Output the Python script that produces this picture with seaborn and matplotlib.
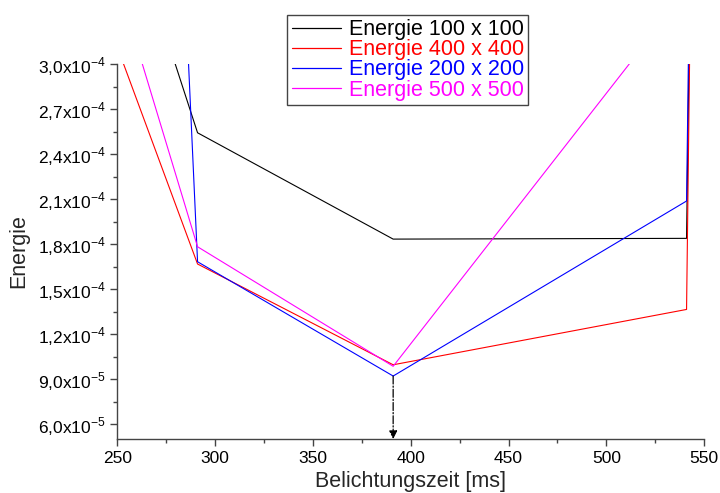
import matplotlib
matplotlib.use('Agg')
import matplotlib.pyplot as plt
import matplotlib.ticker as mticker
import pandas as pd
import seaborn as sns

sns.set_style('ticks')
plt.rcParams['font.family'] = ['Liberation Sans', 'DejaVu Sans']
plt.rcParams['mathtext.fontset'] = 'custom'
plt.rcParams['mathtext.rm'] = 'Liberation Sans'

# Belichtungszeit [ms] (first/last points lie outside the view)
zeit = [241, 291, 391, 541, 591]

energie_100 = [4.55e-4, 2.542e-4, 1.833e-4, 1.838e-4, 5.0e-3]
energie_400 = [3.43e-4, 1.667e-4, 9.95e-5, 1.364e-4, 5.5e-3]
energie_200 = [1.6e-3, 1.682e-4, 9.2e-5, 2.087e-4, 5.2e-3]
energie_500 = [3.94e-4, 1.782e-4, 9.85e-5, 3.49e-4, 5.0e-3]

labels = ['Energie 100 x 100', 'Energie 400 x 400', 'Energie 200 x 200', 'Energie 500 x 500']
colours = ['black', '#ff0000', '#0000ff', '#ff00ff']

y_ticks = [6.0e-5, 9.0e-5, 1.2e-4, 1.5e-4, 1.8e-4, 2.1e-4, 2.4e-4, 2.7e-4, 3.0e-4]
y_tick_labels = [r'6,0x10$^{-5}$', r'9,0x10$^{-5}$', r'1,2x10$^{-4}$', r'1,5x10$^{-4}$',
                 r'1,8x10$^{-4}$', r'2,1x10$^{-4}$', r'2,4x10$^{-4}$', r'2,7x10$^{-4}$',
                 r'3,0x10$^{-4}$']

# long format for seaborn
frames = []
for lab, vals in zip(labels, [energie_100, energie_400, energie_200, energie_500]):
    frames.append(pd.DataFrame({'zeit': zeit, 'energie': vals, 'serie': lab}))
data = pd.concat(frames)

fig = plt.figure(figsize=(7.2, 4.93), dpi=100)
ax = fig.add_axes([0.163, 0.1095, 0.815, 0.7605])

sns.lineplot(data=data, x='zeit', y='energie', hue='serie', palette=dict(zip(labels, colours)),
             sort=False, lw=0.8, legend=False, ax=ax)

ax.set_xlim(250, 550)
ax.set_ylim(5e-5, 3e-4)
ax.set_xticks([250, 300, 350, 400, 450, 500, 550])
ax.xaxis.set_minor_locator(mticker.MultipleLocator(25))
ax.set_yticks(y_ticks)
ax.set_yticklabels(y_tick_labels)
ax.yaxis.set_minor_locator(mticker.MultipleLocator(1.5e-5))
ax.tick_params(which='major', length=5, width=1, colors='#444444', labelsize=12.5, labelcolor='black')
ax.tick_params(which='minor', length=3, width=1, colors='#444444')

for side in ['top', 'right']:
    ax.spines[side].set_visible(False)
for side in ['left', 'bottom']:
    ax.spines[side].set_color('#444444')
    ax.spines[side].set_linewidth(1)

ax.set_xlabel('Belichtungszeit [ms]', fontsize=15.5, labelpad=4)
ax.set_ylabel('Energie', fontsize=15.5, labelpad=6)

# dash-dot arrow from the minimum down to the x axis
ax.annotate('', xy=(391, 5e-5), xytext=(391, 9.2e-5),
            arrowprops=dict(arrowstyle='-|>', linestyle='-.', color='black', lw=0.9,
                            shrinkA=0, shrinkB=0, mutation_scale=12))

handles = [plt.Line2D([], [], color=c, lw=0.9) for c in colours]
leg = fig.legend(handles, labels, loc='upper left', bbox_to_anchor=(0.399, 0.97),
                 borderaxespad=0, fontsize=15.5, labelcolor=colours, fancybox=False,
                 edgecolor='#444444', framealpha=1, handlelength=2.3, handletextpad=0.36,
                 borderpad=0.2, labelspacing=-0.04)
leg.get_frame().set_linewidth(1)

fig.savefig('out.png', dpi=100)
